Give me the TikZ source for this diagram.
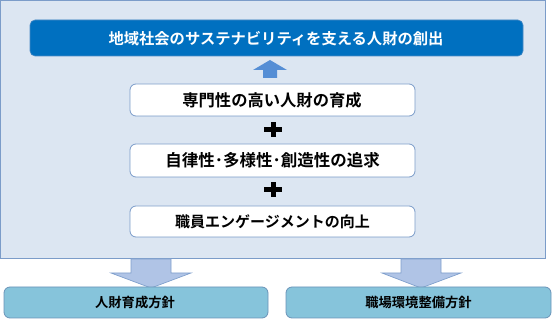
\documentclass[tikz,border=0pt]{standalone}
\usepackage{fontspec}
\newfontfamily\jpfont{Noto Sans CJK JP}[BoldFont={Noto Sans CJK JP Bold}]
\definecolor{outerfill}{HTML}{DCE6F2}
\definecolor{outerline}{HTML}{7B9CC9}
\definecolor{topblue}{HTML}{0070C0}
\definecolor{uparrow}{HTML}{558ED5}
\definecolor{downfill}{HTML}{B0C4E6}
\definecolor{downline}{HTML}{7F9FCC}
\definecolor{botfill}{HTML}{86C4DB}
\definecolor{botline}{HTML}{6A93B8}
\tikzset{
  whitebox/.style={draw=outerline, fill=white, rounded corners=6pt, line width=0.8pt},
  botbox/.style={draw=botline, fill=botfill, rounded corners=6pt, line width=0.8pt},
  downarrow/.style={draw=downline, fill=downfill, line width=0.7pt},
  lbl/.style={font=\jpfont\bfseries, inner sep=0pt}
}
\begin{document}
\begin{tikzpicture}[x=1pt,y=-1pt]
\useasboundingbox (0,0) rectangle (552,320);
% outer panel
\draw[fill=outerfill, draw=outerline, line width=0.8pt] (0.5,0.5) rectangle (545,258);
% top box
\draw[fill=topblue, draw=outerline!60!topblue, rounded corners=5pt, line width=0.6pt] (30,20) rectangle (523,56);
\node[lbl, text=white, font=\jpfont\bfseries\fontsize{15.3}{17}\selectfont] (top) at (276,38.5) {地域社会のサステナビリティを支える人財の創出};
% up arrow
\fill[uparrow] (270,60) -- (287,70) -- (277,70) -- (277,78) -- (263,78) -- (263,70) -- (253,70) -- cycle;
% white boxes
\draw[whitebox] (130,84) rectangle (415,116);
\node[lbl, font=\jpfont\bfseries\fontsize{16.3}{18}\selectfont] (b1) at (272,100.5) {専門性の高い人財の育成};
\draw[whitebox] (130,144) rectangle (415,177);
\node[lbl, font=\jpfont\bfseries\fontsize{16.5}{18}\selectfont] (b2) at (272.5,160.5) {自律性･多様性･創造性の追求};
\draw[whitebox] (130,206) rectangle (415,237);
\node[lbl, font=\jpfont\bfseries\fontsize{15}{17}\selectfont] (b3) at (272.5,221.5) {職員エンゲージメントの向上};
% plus signs
\foreach \yy in {130,190}{
  \draw[line width=5pt] (264,\yy) -- (282,\yy);
  \draw[line width=5pt] (273,\yy-7.5) -- (273,\yy+7.5);
}
% down arrows
\draw[downarrow] (131,259) -- (171,259) -- (171,273) -- (191,273) -- (151,288) -- (111,273) -- (131,273) -- cycle;
\draw[downarrow] (401,259) -- (441,259) -- (441,273) -- (461,273) -- (421,288) -- (382,273) -- (401,273) -- cycle;
% bottom boxes
\draw[botbox] (4,287) rectangle (268,318);
\node[lbl, font=\jpfont\bfseries\fontsize{13.3}{15}\selectfont] (p1) at (135,302.5) {人財育成方針};
\draw[botbox] (286,287) rectangle (551,318);
\node[lbl, font=\jpfont\bfseries\fontsize{13.3}{15}\selectfont] (p2) at (418.5,302.5) {職場環境整備方針};
\end{tikzpicture}
\end{document}
